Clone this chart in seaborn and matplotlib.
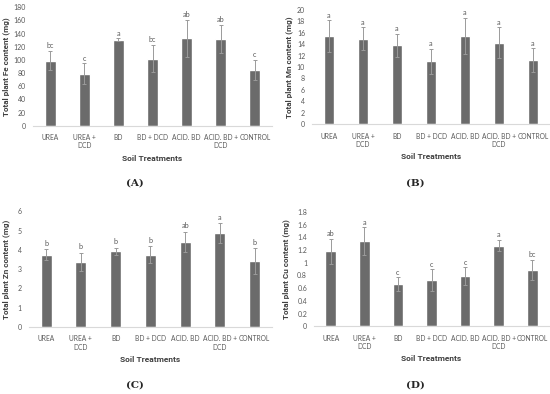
import numpy as np
import pandas as pd
import matplotlib
matplotlib.use("Agg")
import matplotlib.pyplot as plt
import seaborn as sns

sns.set_style("white")
plt.rcParams['font.family'] = ['Lato', 'DejaVu Sans']

treatments = ["UREA", "UREA +\nDCD", "BD", "BD + DCD", "ACID. BD", "ACID. BD +\nDCD", "CONTROL"]

fe_mean = [99, 79, 131, 102, 133, 132, 85]
fe_err = [15, 16, 2, 21, 28, 21, 15]
fe_letters = ["bc", "c", "a", "bc", "ab", "ab", "c"]

mn_mean = [15.4, 14.9, 13.8, 11.0, 15.4, 14.2, 11.2]
mn_err = [2.8, 2.0, 2.0, 2.2, 3.2, 2.7, 2.1]
mn_letters = ["a", "a", "a", "a", "a", "a", "a"]

zn_mean = [3.75, 3.38, 3.92, 3.75, 4.42, 4.88, 3.43]
zn_err = [0.30, 0.47, 0.20, 0.45, 0.53, 0.50, 0.67]
zn_letters = ["b", "b", "b", "b", "ab", "a", "b"]

cu_mean = [1.18, 1.34, 0.66, 0.73, 0.79, 1.27, 0.89]
cu_err = [0.20, 0.22, 0.11, 0.17, 0.14, 0.09, 0.16]
cu_letters = ["ab", "a", "c", "c", "c", "a", "bc"]

W, H = 550, 394
fig = plt.figure(figsize=(W / 100, H / 100), dpi=100)

BAR = "#6b6b6b"
TXT = "#595959"


def panel(rect_px, mean, err, letters, ylim, yticks, ylabel, ylab_x, tag, tag_xy, tick_fmt):
    left, right, top, bottom = rect_px
    ax = fig.add_axes([left / W, 1 - bottom / H, (right - left) / W, (bottom - top) / H])
    df = pd.DataFrame({"treatment": treatments, "value": mean})
    sns.barplot(data=df, x="treatment", y="value", color=BAR, width=0.32,
                saturation=1, ax=ax)
    ax.errorbar(np.arange(len(mean)), mean, yerr=err, fmt="none",
                ecolor="#9a9a9a", elinewidth=0.7, capsize=1.6, capthick=0.7)
    step = yticks[1] - yticks[0]
    for i, (m, e, l) in enumerate(zip(mean, err, letters)):
        ax.text(i, m + e + step * 0.12, l, ha="center", va="bottom",
                fontsize=5.2, color=TXT)
    ax.set_ylim(*ylim)
    ax.set_xlim(-0.5, len(mean) - 0.5)
    ax.set_yticks(yticks)
    ax.set_yticklabels([tick_fmt(t) for t in yticks])
    ax.tick_params(axis="x", length=0, labelsize=4.8, labelcolor=TXT, pad=6)
    ax.tick_params(axis="y", length=0, labelsize=5.0, labelcolor=TXT, pad=5)
    for s in ["top", "right", "left"]:
        ax.spines[s].set_visible(False)
    ax.spines["bottom"].set_color("#d9d9d9")
    ax.spines["bottom"].set_linewidth(0.8)
    ax.set_xlabel("Soil Treatments", fontsize=6.0, color="#404040",
                  fontweight="bold", family="Roboto")
    ax.set_ylabel(ylabel, fontsize=5.9, color="#404040",
                  fontweight="bold", family="Roboto")
    ax.xaxis.set_label_coords(0.5, -29 / (bottom - top))
    ax.yaxis.set_label_coords(-ylab_x / (right - left), 0.5)
    fig.text(tag_xy[0] / W, 1 - tag_xy[1] / H, tag, ha="center", va="center",
             fontsize=7.5, fontweight="bold", family="DejaVu Serif")
    return ax


def fmt_int(t):
    return "%d" % t


def fmt_g(t):
    return ("%g" % round(t, 2))


panel((33, 272, 7.3, 125.7), fe_mean, fe_err, fe_letters, (0, 180),
      list(range(0, 181, 20)), "Total plant Fe content (mg)", 23, "(A)", (135, 183), fmt_int)
panel((312, 550, 9.7, 124.3), mn_mean, mn_err, mn_letters, (0, 20),
      list(range(0, 21, 2)), "Total plant Mn content (mg)", 19, "(B)", (415, 183), fmt_int)
panel((28.7, 272, 211.3, 327), zn_mean, zn_err, zn_letters, (0, 6),
      list(range(0, 7, 1)), "Total plant Zn content (mg)", 19, "(C)", (135, 385), fmt_int)
panel((314, 549, 212, 326.3), cu_mean, cu_err, cu_letters, (0, 1.8),
      list(np.round(np.arange(0, 1.81, 0.2), 1)), "Total plant Cu content (mg)", 24, "(D)", (415, 385), fmt_g)

fig.savefig("out.png", dpi=100)
